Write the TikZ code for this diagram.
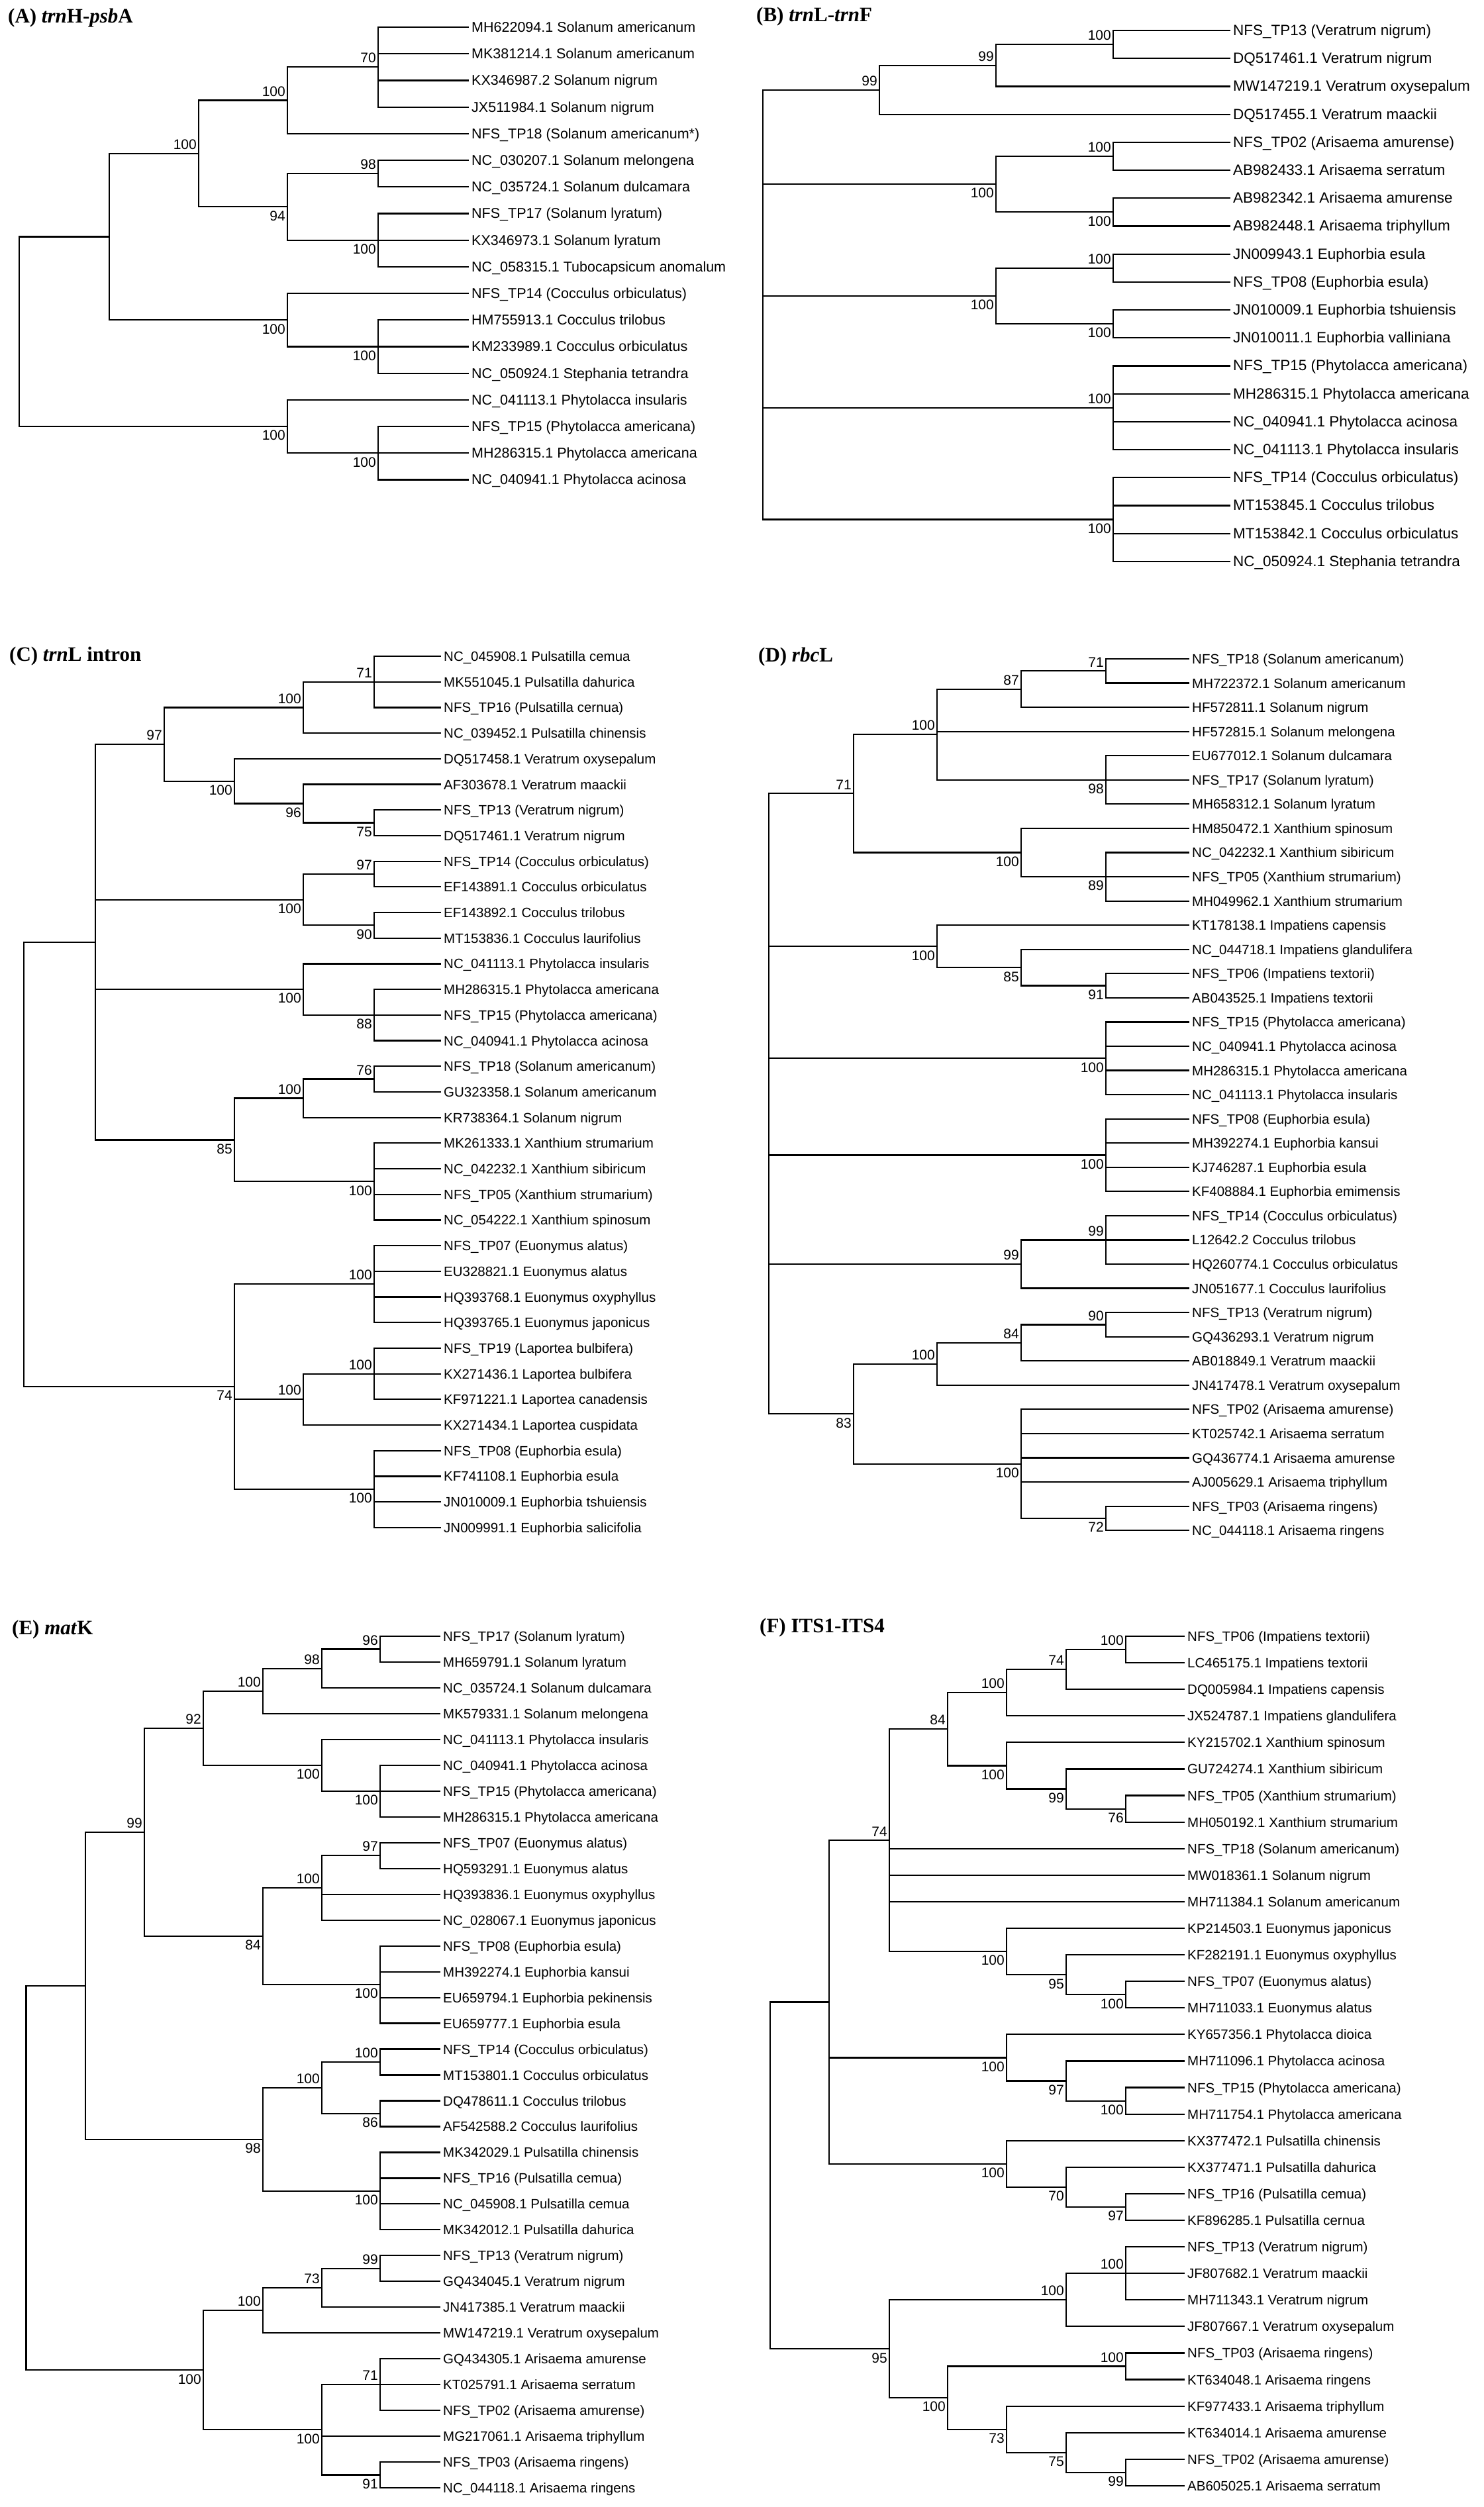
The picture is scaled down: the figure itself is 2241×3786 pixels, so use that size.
\documentclass[tikz,border=0pt]{standalone}
\usepackage{fontspec}
\setmainfont{Liberation Serif}
\newfontfamily\treefont{Liberation Sans}
\usetikzlibrary{calc}

\newcommand\lsz{21.5pt}
\newcommand\leaffont{\treefont\fontsize{\lsz}{\lsz}\selectfont}
\newcommand\bootfont{\treefont\fontsize{21pt}{21pt}\selectfont}
\newcommand\titlefont{\fontsize{31pt}{31pt}\selectfont\bfseries}

\tikzset{
	branch/.style={line width=2.2pt, line cap=rect},
	leaf/.style={anchor=base west, inner sep=0pt, xshift=5pt, yshift=-7.5pt, font=\leaffont},
	bsup/.style={anchor=south east, inner sep=0pt, xshift=-3pt, yshift=6pt, font=\bootfont},
	bsdn/.style={anchor=north east, inner sep=0pt, xshift=-3pt, yshift=-6pt, font=\bootfont},
	paneltitle/.style={anchor=west, inner sep=0pt, font=\titlefont},
}

% leaves: prefix, tip x, first y, spacing, labels
\newcommand\leaves[5]{%
	\foreach \lab [count=\i] in {#5} {%
		\coordinate (#1\i) at (#2,{#3+(\i-1)*#4});
		\node[leaf] (t#1\i) at (#1\i) {\lab};
	}}
% clade: name, x, first child, last child, all children
\newcommand\clade[5]{%
	\path let \p1=($(#3)!.5!(#4)$) in coordinate (#1) at (#2pt,\y1);
	\draw[branch] (#1 |- #3) -- (#1 |- #4);
	\foreach \ch in {#5} {\draw[branch] (#1 |- \ch) -- (\ch);}
}
% bootstrap value: clade, up/dn, value
\newcommand\boot[3]{\node[bs#2] (bs#1) at (#1) {#3};}

\begin{document}
\begin{tikzpicture}[x=1pt, y=-1pt]

	\fill[white] (0,0) rectangle (2241,3786);
	\useasboundingbox (0,0) rectangle (2241,3786);

	% (A) trnH-psbA
	\node[paneltitle] (titleA) at (12,27) {(A) \textit{trn}H-\textit{psb}A};
	\leaves{a}{707}{41}{40.2}{MH622094.1 Solanum americanum,
		MK381214.1 Solanum americanum,
		KX346987.2 Solanum nigrum,
		JX511984.1 Solanum nigrum,
		NFS\_TP18 (Solanum americanum*),
		NC\_030207.1 Solanum melongena,
		NC\_035724.1 Solanum dulcamara,
		NFS\_TP17 (Solanum lyratum),
		KX346973.1 Solanum lyratum,
		NC\_058315.1 Tubocapsicum anomalum,
		NFS\_TP14 (Cocculus orbiculatus),
		HM755913.1 Cocculus trilobus,
		KM233989.1 Cocculus orbiculatus,
		NC\_050924.1 Stephania tetrandra,
		NC\_041113.1 Phytolacca insularis,
		NFS\_TP15 (Phytolacca americana),
		MH286315.1 Phytolacca americana,
		NC\_040941.1 Phytolacca acinosa}
	\clade{aS1a}{571}{a1}{a4}{a1,a2,a3,a4}
	\clade{aS1}{434}{aS1a}{a5}{aS1a,a5}
	\clade{aS2a}{571}{a6}{a7}{a6,a7}
	\clade{aS2b}{571}{a8}{a10}{a8,a9,a10}
	\clade{aS2}{434}{aS2a}{aS2b}{aS2a,aS2b}
	\clade{aSol}{300}{aS1}{aS2}{aS1,aS2}
	\clade{aCb}{571}{a12}{a14}{a12,a13,a14}
	\clade{aCo}{434}{a11}{aCb}{a11,aCb}
	\clade{aN1}{165}{aSol}{aCo}{aSol,aCo}
	\clade{aPb}{571}{a16}{a18}{a16,a17,a18}
	\clade{aPh}{434}{a15}{aPb}{a15,aPb}
	\clade{aR}{29}{aN1}{aPh}{aN1,aPh}
	\boot{aS1a}{up}{70} \boot{aS1}{up}{100} \boot{aSol}{up}{100}
	\boot{aS2a}{up}{98} \boot{aS2}{dn}{94} \boot{aS2b}{dn}{100}
	\boot{aCo}{dn}{100} \boot{aCb}{dn}{100}
	\boot{aPh}{dn}{100} \boot{aPb}{dn}{100}

	% (B) trnL-trnF
	\renewcommand\lsz{22.5pt}
	\node[paneltitle] (titleB) at (1142,25) {(B) \textit{trn}L-\textit{trn}F};
	\leaves{b}{1857}{46}{42.2}{NFS\_TP13 (Veratrum nigrum),
		DQ517461.1 Veratrum nigrum,
		MW147219.1 Veratrum oxysepalum,
		DQ517455.1 Veratrum maackii,
		NFS\_TP02 (Arisaema amurense),
		AB982433.1 Arisaema serratum,
		AB982342.1 Arisaema amurense,
		AB982448.1 Arisaema triphyllum,
		JN009943.1 Euphorbia esula,
		NFS\_TP08 (Euphorbia esula),
		JN010009.1 Euphorbia tshuiensis,
		JN010011.1 Euphorbia valliniana,
		NFS\_TP15 (Phytolacca americana),
		MH286315.1 Phytolacca americana,
		NC\_040941.1 Phytolacca acinosa,
		NC\_041113.1 Phytolacca insularis,
		NFS\_TP14 (Cocculus orbiculatus),
		MT153845.1 Cocculus trilobus,
		MT153842.1 Cocculus orbiculatus,
		NC\_050924.1 Stephania tetrandra}
	\clade{bV2}{1681}{b1}{b2}{b1,b2}
	\clade{bV1}{1504}{bV2}{b3}{bV2,b3}
	\clade{bV}{1328}{bV1}{b4}{bV1,b4}
	\clade{bA1}{1681}{b5}{b6}{b5,b6}
	\clade{bA2}{1681}{b7}{b8}{b7,b8}
	\clade{bA}{1504}{bA1}{bA2}{bA1,bA2}
	\clade{bE1}{1681}{b9}{b10}{b9,b10}
	\clade{bE2}{1681}{b11}{b12}{b11,b12}
	\clade{bE}{1504}{bE1}{bE2}{bE1,bE2}
	\clade{bP}{1681}{b13}{b16}{b13,b14,b15,b16}
	\clade{bC}{1681}{b17}{b20}{b17,b18,b19,b20}
	\clade{bR}{1152}{bV}{bC}{bV,bA,bE,bP,bC}
	\boot{bV2}{up}{100} \boot{bV1}{up}{99} \boot{bV}{up}{99}
	\boot{bA1}{up}{100} \boot{bA2}{dn}{100} \boot{bA}{dn}{100}
	\boot{bE1}{up}{100} \boot{bE2}{dn}{100} \boot{bE}{dn}{100}
	\boot{bP}{up}{100} \boot{bC}{dn}{100}

	% (C) trnL intron
	\renewcommand\lsz{20.5pt}
	\node[paneltitle] (titleC) at (14,991) {(C) \textit{trn}L intron};
	\leaves{c}{665}{991}{38.7}{NC\_045908.1 Pulsatilla cemua,
		MK551045.1 Pulsatilla dahurica,
		NFS\_TP16 (Pulsatilla cernua),
		NC\_039452.1 Pulsatilla chinensis,
		DQ517458.1 Veratrum oxysepalum,
		AF303678.1 Veratrum maackii,
		NFS\_TP13 (Veratrum nigrum),
		DQ517461.1 Veratrum nigrum,
		NFS\_TP14 (Cocculus orbiculatus),
		EF143891.1 Cocculus orbiculatus,
		EF143892.1 Cocculus trilobus,
		MT153836.1 Cocculus laurifolius,
		NC\_041113.1 Phytolacca insularis,
		MH286315.1 Phytolacca americana,
		NFS\_TP15 (Phytolacca americana),
		NC\_040941.1 Phytolacca acinosa,
		NFS\_TP18 (Solanum americanum),
		GU323358.1 Solanum americanum,
		KR738364.1 Solanum nigrum,
		MK261333.1 Xanthium strumarium,
		NC\_042232.1 Xanthium sibiricum,
		NFS\_TP05 (Xanthium strumarium),
		NC\_054222.1 Xanthium spinosum,
		NFS\_TP07 (Euonymus alatus),
		EU328821.1 Euonymus alatus,
		HQ393768.1 Euonymus oxyphyllus,
		HQ393765.1 Euonymus japonicus,
		NFS\_TP19 (Laportea bulbifera),
		KX271436.1 Laportea bulbifera,
		KF971221.1 Laportea canadensis,
		KX271434.1 Laportea cuspidata,
		NFS\_TP08 (Euphorbia esula),
		KF741108.1 Euphorbia esula,
		JN010009.1 Euphorbia tshuiensis,
		JN009991.1 Euphorbia salicifolia}
	\clade{cP1}{565}{c1}{c3}{c1,c2,c3}
	\clade{cPu}{458}{cP1}{c4}{cP1,c4}
	\clade{cV2}{565}{c7}{c8}{c7,c8}
	\clade{cV1}{458}{c6}{cV2}{c6,cV2}
	\clade{cVe}{354}{c5}{cV1}{c5,cV1}
	\clade{cPV}{248}{cPu}{cVe}{cPu,cVe}
	\clade{cC1}{565}{c9}{c10}{c9,c10}
	\clade{cC2}{565}{c11}{c12}{c11,c12}
	\clade{cCo}{458}{cC1}{cC2}{cC1,cC2}
	\clade{cH1}{565}{c14}{c16}{c14,c15,c16}
	\clade{cPh}{458}{c13}{cH1}{c13,cH1}
	\clade{cS1}{565}{c17}{c18}{c17,c18}
	\clade{cSo}{458}{cS1}{c19}{cS1,c19}
	\clade{cXa}{565}{c20}{c23}{c20,c21,c22,c23}
	\clade{cSX}{354}{cSo}{cXa}{cSo,cXa}
	\clade{cR1}{144}{cPV}{cSX}{cPV,cCo,cPh,cSX}
	\clade{cEo}{565}{c24}{c27}{c24,c25,c26,c27}
	\clade{cL1}{565}{c28}{c30}{c28,c29,c30}
	\clade{cLa}{458}{cL1}{c31}{cL1,c31}
	\clade{cEu}{565}{c32}{c35}{c32,c33,c34,c35}
	\clade{cLo}{354}{cEo}{cEu}{cEo,cLa,cEu}
	\clade{cR}{36}{cR1}{cLo}{cR1,cLo}
	\boot{cP1}{up}{71} \boot{cPu}{up}{100} \boot{cV2}{dn}{75}
	\boot{cV1}{dn}{96} \boot{cVe}{dn}{100} \boot{cPV}{up}{97}
	\boot{cC1}{up}{97} \boot{cC2}{dn}{90} \boot{cCo}{dn}{100}
	\boot{cH1}{dn}{88} \boot{cPh}{dn}{100} \boot{cS1}{up}{76}
	\boot{cSo}{up}{100} \boot{cXa}{dn}{100} \boot{cSX}{dn}{85}
	\boot{cEo}{up}{100} \boot{cL1}{up}{100} \boot{cLa}{up}{100}
	\boot{cEu}{dn}{100} \boot{cLo}{dn}{74}

	% (D) rbcL
	\node[paneltitle] (titleD) at (1145,992) {(D) \textit{rbc}L};
	\leaves{d}{1795}{995}{36.56}{NFS\_TP18 (Solanum americanum),
		MH722372.1 Solanum americanum,
		HF572811.1 Solanum nigrum,
		HF572815.1 Solanum melongena,
		EU677012.1 Solanum dulcamara,
		NFS\_TP17 (Solanum lyratum),
		MH658312.1 Solanum lyratum,
		HM850472.1 Xanthium spinosum,
		NC\_042232.1 Xanthium sibiricum,
		NFS\_TP05 (Xanthium strumarium),
		MH049962.1 Xanthium strumarium,
		KT178138.1 Impatiens capensis,
		NC\_044718.1 Impatiens glandulifera,
		NFS\_TP06 (Impatiens textorii),
		AB043525.1 Impatiens textorii,
		NFS\_TP15 (Phytolacca americana),
		NC\_040941.1 Phytolacca acinosa,
		MH286315.1 Phytolacca americana,
		NC\_041113.1 Phytolacca insularis,
		NFS\_TP08 (Euphorbia esula),
		MH392274.1 Euphorbia kansui,
		KJ746287.1 Euphorbia esula,
		KF408884.1 Euphorbia emimensis,
		NFS\_TP14 (Cocculus orbiculatus),
		L12642.2 Cocculus trilobus,
		HQ260774.1 Cocculus orbiculatus,
		JN051677.1 Cocculus laurifolius,
		NFS\_TP13 (Veratrum nigrum),
		GQ436293.1 Veratrum nigrum,
		AB018849.1 Veratrum maackii,
		JN417478.1 Veratrum oxysepalum,
		NFS\_TP02 (Arisaema amurense),
		KT025742.1 Arisaema serratum,
		GQ436774.1 Arisaema amurense,
		AJ005629.1 Arisaema triphyllum,
		NFS\_TP03 (Arisaema ringens),
		NC\_044118.1 Arisaema ringens}
	\clade{dS1a}{1670}{d1}{d2}{d1,d2}
	\clade{dS1}{1542}{dS1a}{d3}{dS1a,d3}
	\clade{dS2}{1670}{d5}{d7}{d5,d6,d7}
	\clade{dSo}{1415}{dS1}{dS2}{dS1,d4,dS2}
	\clade{dX1}{1670}{d9}{d11}{d9,d10,d11}
	\clade{dXa}{1542}{d8}{dX1}{d8,dX1}
	\clade{dSX}{1289}{dSo}{dXa}{dSo,dXa}
	\clade{dI2}{1670}{d14}{d15}{d14,d15}
	\clade{dI1}{1542}{d13}{dI2}{d13,dI2}
	\clade{dIm}{1415}{d12}{dI1}{d12,dI1}
	\clade{dPh}{1670}{d16}{d19}{d16,d17,d18,d19}
	\clade{dEu}{1670}{d20}{d23}{d20,d21,d22,d23}
	\clade{dC1}{1670}{d24}{d26}{d24,d25,d26}
	\clade{dCo}{1542}{dC1}{d27}{dC1,d27}
	\clade{dV2}{1670}{d28}{d29}{d28,d29}
	\clade{dV1}{1542}{dV2}{d30}{dV2,d30}
	\clade{dVe}{1415}{dV1}{d31}{dV1,d31}
	\clade{dA1}{1670}{d36}{d37}{d36,d37}
	\clade{dAr}{1542}{d32}{dA1}{d32,d33,d34,d35,dA1}
	\clade{dVA}{1289}{dVe}{dAr}{dVe,dAr}
	\clade{dR}{1161}{dSX}{dVA}{dSX,dIm,dPh,dEu,dCo,dVA}
	\boot{dS1a}{up}{71} \boot{dS1}{up}{87} \boot{dSo}{up}{100}
	\boot{dS2}{dn}{98} \boot{dX1}{dn}{89} \boot{dXa}{dn}{100}
	\boot{dSX}{up}{71} \boot{dI2}{dn}{91} \boot{dI1}{dn}{85}
	\boot{dIm}{dn}{100} \boot{dPh}{dn}{100} \boot{dEu}{dn}{100}
	\boot{dC1}{up}{99} \boot{dCo}{up}{99} \boot{dV2}{up}{90}
	\boot{dV1}{up}{84} \boot{dVe}{up}{100} \boot{dA1}{dn}{72}
	\boot{dAr}{dn}{100} \boot{dVA}{dn}{83}

	% (E) matK
	\node[paneltitle] (titleE) at (18,2461) {(E) \textit{mat}K};
	\leaves{e}{664}{2471}{38.97}{NFS\_TP17 (Solanum lyratum),
		MH659791.1 Solanum lyratum,
		NC\_035724.1 Solanum dulcamara,
		MK579331.1 Solanum melongena,
		NC\_041113.1 Phytolacca insularis,
		NC\_040941.1 Phytolacca acinosa,
		NFS\_TP15 (Phytolacca americana),
		MH286315.1 Phytolacca americana,
		NFS\_TP07 (Euonymus alatus),
		HQ593291.1 Euonymus alatus,
		HQ393836.1 Euonymus oxyphyllus,
		NC\_028067.1 Euonymus japonicus,
		NFS\_TP08 (Euphorbia esula),
		MH392274.1 Euphorbia kansui,
		EU659794.1 Euphorbia pekinensis,
		EU659777.1 Euphorbia esula,
		NFS\_TP14 (Cocculus orbiculatus),
		MT153801.1 Cocculus orbiculatus,
		DQ478611.1 Cocculus trilobus,
		AF542588.2 Cocculus laurifolius,
		MK342029.1 Pulsatilla chinensis,
		NFS\_TP16 (Pulsatilla cemua),
		NC\_045908.1 Pulsatilla cemua,
		MK342012.1 Pulsatilla dahurica,
		NFS\_TP13 (Veratrum nigrum),
		GQ434045.1 Veratrum nigrum,
		JN417385.1 Veratrum maackii,
		MW147219.1 Veratrum oxysepalum,
		GQ434305.1 Arisaema amurense,
		KT025791.1 Arisaema serratum,
		NFS\_TP02 (Arisaema amurense),
		MG217061.1 Arisaema triphyllum,
		NFS\_TP03 (Arisaema ringens),
		NC\_044118.1 Arisaema ringens}
	\clade{eS2}{574}{e1}{e2}{e1,e2}
	\clade{eS1}{486}{eS2}{e3}{eS2,e3}
	\clade{eSo}{397}{eS1}{e4}{eS1,e4}
	\clade{eP1}{574}{e6}{e8}{e6,e7,e8}
	\clade{ePh}{486}{e5}{eP1}{e5,eP1}
	\clade{eSP}{307}{eSo}{ePh}{eSo,ePh}
	\clade{eO1}{574}{e9}{e10}{e9,e10}
	\clade{eEo}{486}{eO1}{e12}{eO1,e11,e12}
	\clade{eEu}{574}{e13}{e16}{e13,e14,e15,e16}
	\clade{eEE}{397}{eEo}{eEu}{eEo,eEu}
	\clade{eE2}{218}{eSP}{eEE}{eSP,eEE}
	\clade{eC1}{574}{e17}{e18}{e17,e18}
	\clade{eC2}{574}{e19}{e20}{e19,e20}
	\clade{eCo}{486}{eC1}{eC2}{eC1,eC2}
	\clade{ePu}{574}{e21}{e24}{e21,e22,e23,e24}
	\clade{eCP}{397}{eCo}{ePu}{eCo,ePu}
	\clade{eE1}{129}{eE2}{eCP}{eE2,eCP}
	\clade{eV2}{574}{e25}{e26}{e25,e26}
	\clade{eV1}{486}{eV2}{e27}{eV2,e27}
	\clade{eVe}{397}{eV1}{e28}{eV1,e28}
	\clade{eA1}{574}{e29}{e31}{e29,e30,e31}
	\clade{eA2}{574}{e33}{e34}{e33,e34}
	\clade{eAr}{486}{eA1}{eA2}{eA1,e32,eA2}
	\clade{eVA}{307}{eVe}{eAr}{eVe,eAr}
	\clade{eR}{39.5}{eE1}{eVA}{eE1,eVA}
	\boot{eS2}{up}{96} \boot{eS1}{up}{98} \boot{eSo}{up}{100}
	\boot{eSP}{up}{92} \boot{eP1}{dn}{100} \boot{ePh}{dn}{100}
	\boot{eO1}{up}{97} \boot{eEo}{up}{100} \boot{eEu}{dn}{100}
	\boot{eEE}{dn}{84} \boot{eE2}{up}{99} \boot{eC1}{up}{100}
	\boot{eC2}{dn}{86} \boot{eCo}{up}{100} \boot{ePu}{dn}{100}
	\boot{eCP}{dn}{98} \boot{eV2}{up}{99} \boot{eV1}{up}{73}
	\boot{eVe}{up}{100} \boot{eA1}{up}{71} \boot{eA2}{dn}{91}
	\boot{eAr}{dn}{100} \boot{eVA}{dn}{100}

	% (F) ITS1-ITS4
	\node[paneltitle] (titleF) at (1147,2458) {(F) ITS1-ITS4};
	\leaves{f}{1788}{2471}{40.09}{NFS\_TP06 (Impatiens textorii),
		LC465175.1 Impatiens textorii,
		DQ005984.1 Impatiens capensis,
		JX524787.1 Impatiens glandulifera,
		KY215702.1 Xanthium spinosum,
		GU724274.1 Xanthium sibiricum,
		NFS\_TP05 (Xanthium strumarium),
		MH050192.1 Xanthium strumarium,
		NFS\_TP18 (Solanum americanum),
		MW018361.1 Solanum nigrum,
		MH711384.1 Solanum americanum,
		KP214503.1 Euonymus japonicus,
		KF282191.1 Euonymus oxyphyllus,
		NFS\_TP07 (Euonymus alatus),
		MH711033.1 Euonymus alatus,
		KY657356.1 Phytolacca dioica,
		MH711096.1 Phytolacca acinosa,
		NFS\_TP15 (Phytolacca americana),
		MH711754.1 Phytolacca americana,
		KX377472.1 Pulsatilla chinensis,
		KX377471.1 Pulsatilla dahurica,
		NFS\_TP16 (Pulsatilla cemua),
		KF896285.1 Pulsatilla cernua,
		NFS\_TP13 (Veratrum nigrum),
		JF807682.1 Veratrum maackii,
		MH711343.1 Veratrum nigrum,
		JF807667.1 Veratrum oxysepalum,
		NFS\_TP03 (Arisaema ringens),
		KT634048.1 Arisaema ringens,
		KF977433.1 Arisaema triphyllum,
		KT634014.1 Arisaema amurense,
		NFS\_TP02 (Arisaema amurense),
		AB605025.1 Arisaema serratum}
	\clade{fI2}{1700}{f1}{f2}{f1,f2}
	\clade{fI1}{1610}{fI2}{f3}{fI2,f3}
	\clade{fIm}{1520}{fI1}{f4}{fI1,f4}
	\clade{fX2}{1700}{f7}{f8}{f7,f8}
	\clade{fX1}{1610}{f6}{fX2}{f6,fX2}
	\clade{fXa}{1520}{f5}{fX1}{f5,fX1}
	\clade{fIX}{1431}{fIm}{fXa}{fIm,fXa}
	\clade{fO2}{1700}{f14}{f15}{f14,f15}
	\clade{fO1}{1610}{f13}{fO2}{f13,fO2}
	\clade{fEo}{1520}{f12}{fO1}{f12,fO1}
	\clade{fG}{1343}{fIX}{fEo}{fIX,f9,f10,f11,fEo}
	\clade{fP2}{1700}{f18}{f19}{f18,f19}
	\clade{fP1}{1610}{f17}{fP2}{f17,fP2}
	\clade{fPh}{1520}{f16}{fP1}{f16,fP1}
	\clade{fU2}{1700}{f22}{f23}{f22,f23}
	\clade{fU1}{1610}{f21}{fU2}{f21,fU2}
	\clade{fPu}{1520}{f20}{fU1}{f20,fU1}
	\clade{fF1}{1252}{fG}{fPu}{fG,fPh,fPu}
	\clade{fV1}{1700}{f24}{f26}{f24,f25,f26}
	\clade{fVe}{1610}{fV1}{f27}{fV1,f27}
	\clade{fA1}{1700}{f28}{f29}{f28,f29}
	\clade{fA4}{1700}{f32}{f33}{f32,f33}
	\clade{fA3}{1610}{f31}{fA4}{f31,fA4}
	\clade{fA2}{1520}{f30}{fA3}{f30,fA3}
	\clade{fAr}{1431}{fA1}{fA2}{fA1,fA2}
	\clade{fVA}{1343}{fVe}{fAr}{fVe,fAr}
	\clade{fR}{1163}{fF1}{fVA}{fF1,fVA}
	\boot{fI2}{up}{100} \boot{fI1}{up}{74} \boot{fIm}{up}{100}
	\boot{fX2}{dn}{76} \boot{fX1}{dn}{99} \boot{fXa}{dn}{100}
	\boot{fIX}{up}{84} \boot{fO2}{dn}{100} \boot{fO1}{dn}{95}
	\boot{fEo}{dn}{100} \boot{fG}{up}{74} \boot{fP2}{dn}{100}
	\boot{fP1}{dn}{97} \boot{fPh}{dn}{100} \boot{fU2}{dn}{97}
	\boot{fU1}{dn}{70} \boot{fPu}{dn}{100} \boot{fV1}{up}{100}
	\boot{fVe}{up}{100} \boot{fA1}{up}{100} \boot{fA4}{dn}{99}
	\boot{fA3}{dn}{75} \boot{fA2}{dn}{73} \boot{fAr}{dn}{100}
	\boot{fVA}{dn}{95}

\end{tikzpicture}
\end{document}
